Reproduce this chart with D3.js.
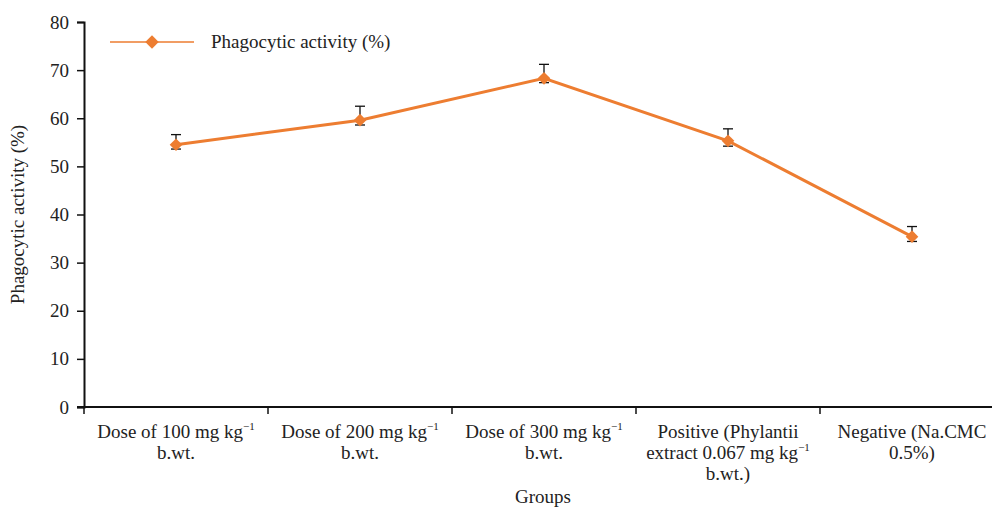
<!DOCTYPE html>
<html>
<head>
<meta charset="utf-8">
<script src="https://cdn.jsdelivr.net/npm/d3@7"></script>
<style>
  body { margin: 0; background: #fff; }
  text { font-family: "Liberation Serif", "Times New Roman", serif; fill: #222; }
</style>
</head>
<body>
<svg id="chart"></svg>
<script>
// data
const groups = ["g100", "g200", "g300", "positive", "negative"];
const groupLabels = [
  ["Dose of 100 mg kg^-1", "b.wt."],
  ["Dose of 200 mg kg^-1", "b.wt."],
  ["Dose of 300 mg kg^-1", "b.wt."],
  ["Positive (Phylantii", "extract 0.067 mg kg^-1", "b.wt.)"],
  ["Negative (Na.CMC", "0.5%)"]
];
const activity = [54.5, 59.6, 68.3, 55.3, 35.4];
const errUpper = [56.6, 62.5, 71.2, 57.8, 37.5];
const errLower = [53.6, 58.6, 67.4, 54.2, 34.4];
const yTicks = [0, 10, 20, 30, 40, 50, 60, 70, 80];

const W = 992, H = 508;
const orange = "#ED7D31";
const fs = "19px";
const plotL = 84, plotR = 1004, plotT = 22, plotB = 407;

const svg = d3.select("#chart").attr("width", W).attr("height", H);

const x = d3.scaleBand().domain(groups).range([plotL, plotR]);
const y = d3.scaleLinear().domain([0, 80]).range([plotB, plotT]);
const cx = d => x(d) + x.bandwidth() / 2;

// y axis
const yAxis = svg.append("g")
  .attr("transform", `translate(${plotL},0)`)
  .call(d3.axisLeft(y).tickValues(yTicks).tickSize(7).tickPadding(8));
yAxis.select(".domain").attr("stroke", "#111").attr("stroke-width", 2);
yAxis.selectAll(".tick line").attr("stroke", "#111").attr("stroke-width", 1.5);
yAxis.selectAll(".tick text").style("font-size", fs).attr("fill", "#222")
  .style("font-family", "Liberation Serif, serif");

// x axis, ticks at group boundaries
const xg = svg.append("g");
xg.append("line")
  .attr("x1", plotL - 7).attr("x2", plotR)
  .attr("y1", plotB).attr("y2", plotB)
  .attr("stroke", "#111").attr("stroke-width", 2);
xg.selectAll(".xtick")
  .data(groups)
  .enter().append("line")
  .attr("class", "xtick")
  .attr("x1", d => x(d)).attr("x2", d => x(d))
  .attr("y1", plotB).attr("y2", plotB + 7)
  .attr("stroke", "#111").attr("stroke-width", 1.5);

// category labels (with kg^-1 superscript)
groups.forEach((g, i) => {
  groupLabels[i].forEach((line, j) => {
    const t = svg.append("text")
      .attr("x", cx(g))
      .attr("y", plotB + 31 + j * 21)
      .attr("text-anchor", "middle")
      .style("font-size", fs);
    const parts = line.split("^-1");
    t.append("tspan").text(parts[0]);
    if (parts.length > 1) {
      t.append("tspan").attr("dy", -8).style("font-size", "11px").text("\u22121");
    }
  });
});

// axis titles
svg.append("text")
  .attr("transform", `translate(24,${(plotT + plotB) / 2}) rotate(-90)`)
  .attr("text-anchor", "middle")
  .style("font-size", fs)
  .text("Phagocytic activity (%)");

svg.append("text")
  .attr("x", 543).attr("y", 503)
  .attr("text-anchor", "middle")
  .style("font-size", fs)
  .text("Groups");

// error bars
const eb = svg.append("g").attr("stroke", "#111").attr("stroke-width", 1.3);
groups.forEach((g, i) => {
  eb.append("line").attr("x1", cx(g)).attr("x2", cx(g))
    .attr("y1", y(errUpper[i])).attr("y2", y(errLower[i]));
  [errUpper[i], errLower[i]].forEach(v => {
    eb.append("line").attr("x1", cx(g) - 5).attr("x2", cx(g) + 5)
      .attr("y1", y(v)).attr("y2", y(v));
  });
});

// line
const line = d3.line().x((d, i) => cx(groups[i])).y(d => y(d));
svg.append("path")
  .datum(activity)
  .attr("fill", "none")
  .attr("stroke", orange)
  .attr("stroke-width", 3)
  .attr("d", line);

// diamond markers
svg.selectAll(".pt")
  .data(activity)
  .enter().append("path")
  .attr("class", "pt")
  .attr("transform", (d, i) => `translate(${cx(groups[i])},${y(d)}) rotate(45)`)
  .attr("d", d3.symbol().type(d3.symbolSquare).size(80))
  .attr("fill", orange);

// legend
const lg = svg.append("g").attr("transform", "translate(110,42)");
lg.append("line").attr("x1", 0).attr("x2", 84).attr("y1", 0).attr("y2", 0)
  .attr("stroke", orange).attr("stroke-width", 1.5);
lg.append("path")
  .attr("transform", "translate(42,0) rotate(45)")
  .attr("d", d3.symbol().type(d3.symbolSquare).size(90))
  .attr("fill", orange);
lg.append("text").attr("x", 101).attr("y", 6)
  .style("font-size", fs)
  .text("Phagocytic activity (%)");
</script>
</body>
</html>
